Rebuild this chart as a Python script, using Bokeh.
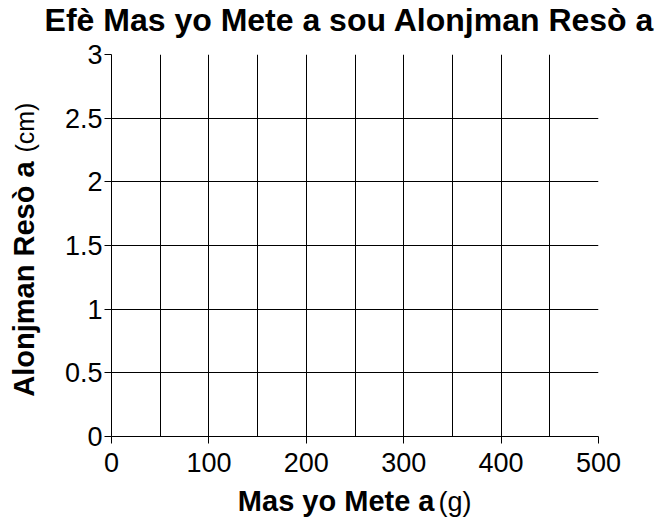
from bokeh.plotting import figure
from bokeh.models import Range1d, FixedTicker, Label
from bokeh.embed import file_html
from bokeh.resources import INLINE
import math

# Chart content
title_text = "Efè Mas yo Mete a sou Alonjman Resò a"
x_label_bold = "Mas yo Mete a"
x_label_unit = "(g)"
y_label_bold = "Alonjman Resò a"
y_label_unit = "(cm)"

x_ticks = [0, 100, 200, 300, 400, 500]
x_grid = [0, 50, 100, 150, 200, 250, 300, 350, 400, 450, 500]
y_ticks = [0, 0.5, 1, 1.5, 2, 2.5, 3]
y_tick_labels = ["0", "0.5", "1", "1.5", "2", "2.5", "3"]

FONT = "Liberation Sans"

p = figure(width=655, height=517, output_backend="svg", toolbar_location=None,
           x_range=Range1d(0, 500), y_range=Range1d(0, 3),
           min_border_left=111, min_border_right=57,
           min_border_top=54, min_border_bottom=81)
p.outline_line_color = None
p.background_fill_color = "white"
p.border_fill_color = "white"

# grid
p.xgrid.ticker = FixedTicker(ticks=x_grid)
p.ygrid.ticker = FixedTicker(ticks=y_ticks)
for g in (p.xgrid, p.ygrid):
    g.grid_line_color = "black"
    g.grid_line_width = 1
    g.grid_line_alpha = 1.0

# axes
p.xaxis.ticker = FixedTicker(ticks=x_ticks)
p.yaxis.ticker = FixedTicker(ticks=y_ticks)
p.yaxis.major_label_overrides = {t: l for t, l in zip(y_ticks, y_tick_labels)}
for ax in (p.xaxis, p.yaxis):
    ax.axis_line_color = "black"
    ax.axis_line_width = 1
    ax.major_tick_line_color = "black"
    ax.major_tick_out = 7
    ax.major_tick_in = 0
    ax.minor_tick_line_color = None
    ax.major_label_text_font = FONT
    ax.major_label_text_font_size = "27px"
    ax.major_label_text_color = "black"
    ax.axis_label = None
p.xaxis.major_label_standoff = 9
p.yaxis.major_label_standoff = 2

def lab(**kw):
    base = dict(text_font=FONT, text_color="black", text_baseline="middle",
                text_line_height=1.0)
    base.update(kw)
    return Label(**base)

# title
p.add_layout(lab(x=244.4, y=3.268, text=title_text, text_align="center",
                 text_font_style="bold", text_font_size="32px"), "above")

# x axis label (bold + normal)
p.add_layout(lab(x=331.6, y=-0.510, text=x_label_bold, text_align="right",
                 text_font_style="bold", text_font_size="29px"), "below")
p.add_layout(lab(x=335.7, y=-0.517, text=x_label_unit, text_align="left",
                 text_font_style="normal", text_font_size="27px"), "right")

# y axis label (bold + normal), rotated
p.add_layout(lab(x=-89.8, y=2.160, text=y_label_bold, text_align="right",
                 angle=math.pi / 2, text_font_style="bold", text_font_size="29px"), "left")
p.add_layout(lab(x=-88.3, y=2.230, text=y_label_unit, text_align="left",
                 angle=math.pi / 2, text_font_style="normal", text_font_size="25px"), "left")

open("out.html", "w").write(file_html(p, INLINE))
